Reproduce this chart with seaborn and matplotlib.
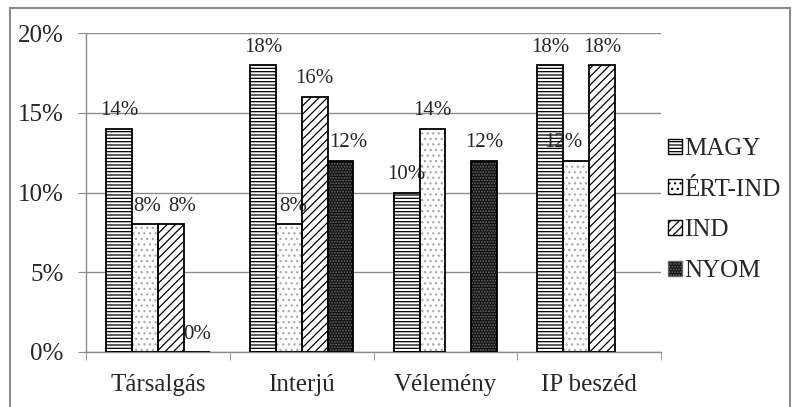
import numpy as np
import pandas as pd
import matplotlib
matplotlib.use("Agg")
import matplotlib.pyplot as plt
import matplotlib.patches as mpatches
from matplotlib.ticker import PercentFormatter, FixedLocator
import seaborn as sns

# Data (percent)
categories = ["Társalgás", "Interjú", "Vélemény", "IP beszéd"]
series = ["MAGY", "ÉRT-IND", "IND", "NYOM"]
magy = [14, 18, 10, 18]
ert_ind = [8, 8, 14, 12]
ind = [8, 16, np.nan, 18]
nyom = [0, 12, 12, np.nan]

df = pd.DataFrame({"MAGY": magy, "ÉRT-IND": ert_ind, "IND": ind, "NYOM": nyom},
                  index=categories)
long = df.reset_index(names="kat").melt(id_vars="kat", var_name="sor", value_name="ertek")

# sideways nudges of some labels (points), like Excel's automatic placement
label_nudge = {
    ("ÉRT-IND", 0): 1.5, ("IND", 0): 8.5,
    ("ÉRT-IND", 1): 3, ("NYOM", 1): 5.5,
    ("ÉRT-IND", 3): -9.5,
}

sns.set_style("white")
plt.rcParams["font.family"] = ["Liberation Serif", "DejaVu Serif"]
plt.rcParams["hatch.linewidth"] = 0.9

grey = "#8c8c8c"

fig = plt.figure(figsize=(7.92, 4.07), dpi=100)
ax = fig.add_axes([86 / 792, 55 / 407, 575 / 792, 319 / 407])

sns.barplot(data=long, x="kat", y="ertek", hue="sor", order=categories,
            hue_order=series, color="white", edgecolor="black", linewidth=1.3,
            width=0.72, gap=0, legend=False, ax=ax, saturation=1)

styles = {
    "MAGY": dict(face="white", hatch="-----", hcol="black"),
    "ÉRT-IND": dict(face="white", hatch="...", hcol="#aaaaaa"),
    "IND": dict(face="white", hatch="////", hcol="black"),
    "NYOM": dict(face="#111111", hatch="......", hcol="#6a6a6a"),
}

for name, cont in zip(series, ax.containers):
    st = styles[name]
    for p in cont.patches:
        p.set_facecolor(st["face"])
        p.set_hatch(st["hatch"])
        p.set_edgecolor(st["hcol"])
        p.set_linewidth(0)
        # black outline on top
        ax.add_patch(mpatches.Rectangle((p.get_x(), p.get_y()), p.get_width(), p.get_height(),
                                        fill=False, edgecolor="black", linewidth=1.3, zorder=3))
    texts = ax.bar_label(cont, fmt="%.0f%%", padding=6, fontsize=15)
    for p, t in zip(cont.patches, texts):
        k = int(round(p.get_x() + p.get_width() / 2))
        dx = label_nudge.get((name, k), 0)
        if dx:
            x0, y0 = t.xyann
            t.xyann = (x0 + dx, y0)

ax.set_ylim(0, 20)
ax.set_xlim(-0.5, 3.5)
ax.yaxis.set_major_locator(FixedLocator([0, 5, 10, 15, 20]))
ax.yaxis.set_major_formatter(PercentFormatter(xmax=100, decimals=0))
ax.grid(axis="y", color=grey, linewidth=1)
ax.set_axisbelow(True)
ax.set_xlabel("")
ax.set_ylabel("")

for s in ["top", "right"]:
    ax.spines[s].set_visible(False)
for s in ["left", "bottom"]:
    ax.spines[s].set_color(grey)
    ax.spines[s].set_linewidth(1)

ax.tick_params(axis="y", length=6, color=grey, labelsize=18, pad=10, left=True)
ax.tick_params(axis="x", which="major", length=0, labelsize=18, pad=16)
ax.xaxis.set_minor_locator(FixedLocator([-0.5, 0.5, 1.5, 2.5, 3.5]))
ax.tick_params(axis="x", which="minor", length=6, color=grey, bottom=True)

handles = [mpatches.Patch(facecolor=styles[n]["face"], hatch=styles[n]["hatch"],
                          edgecolor=styles[n]["hcol"] if n == "NYOM" else "black",
                          linewidth=1) for n in series]
ax.legend(handles, series, loc="center left", bbox_to_anchor=(1.012, 0.445),
          frameon=False, fontsize=18, handlelength=0.55, handleheight=0.55,
          handletextpad=0.1, labelspacing=0.75, borderaxespad=0, borderpad=0)

# outer chart border
fig.patches.append(mpatches.Rectangle((10 / 792, -0.1), 780 / 792, 1.1 - 8 / 407,
                                      transform=fig.transFigure, fill=False,
                                      edgecolor=grey, linewidth=1.5))

fig.savefig("out.png", dpi=100)
